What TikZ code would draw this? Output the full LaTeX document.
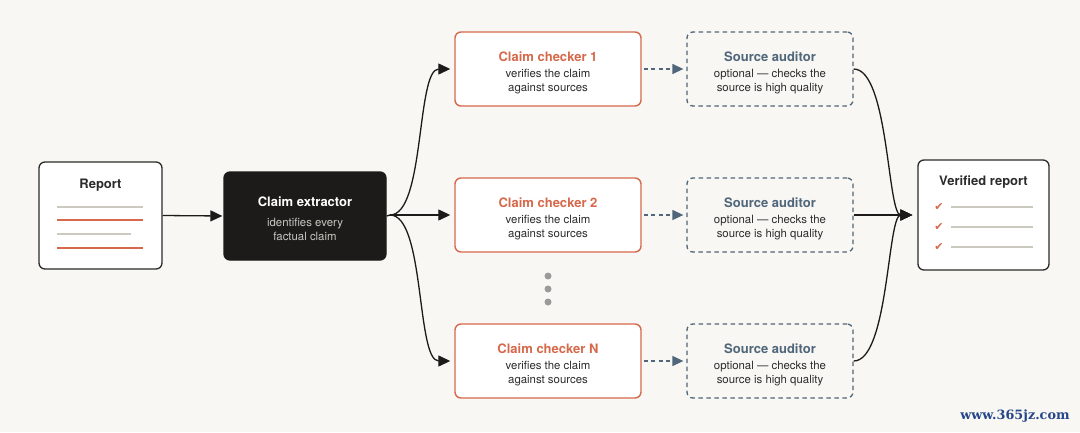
\documentclass[tikz,border=0pt]{standalone}
\usepackage{fontspec}
\setmainfont{TeX Gyre Heros}
\newfontfamily\dejavu{DejaVu Sans}
\newfontfamily\wmfont{DejaVu Serif}
\usetikzlibrary{arrows.meta}
\definecolor{bg}{HTML}{F8F7F3}
\definecolor{ink}{HTML}{1C1B19}
\definecolor{orng}{HTML}{D6694B}
\definecolor{slate}{HTML}{50667A}
\definecolor{lgray}{HTML}{CCC9C1}
\definecolor{subgray}{HTML}{C9C7C1}
\definecolor{txt}{HTML}{2B2B2B}
\definecolor{dotgray}{HTML}{9A9A98}
\definecolor{wm}{HTML}{26468A}
\begin{document}
\begin{tikzpicture}[x=1pt,y=-1pt,
  box/.style={rectangle, rounded corners=6pt, inner sep=0pt, line width=1.3pt},
  plainbox/.style={box, draw=txt, fill=white},
  darkbox/.style={box, draw=ink, fill=ink},
  chkbox/.style={box, draw=orng, fill=white, line width=1.4pt},
  audbox/.style={box, draw=slate, dash pattern=on 4.5pt off 3.5pt},
  ttl/.style={font=\bfseries\fontsize{13}{15}\selectfont, inner sep=0pt},
  sub/.style={font=\fontsize{11.4}{14}\selectfont, align=center, inner sep=0pt, text=txt},
  conn/.style={line width=1.3pt, draw=ink, -{Triangle[length=12pt,width=11pt]}},
  dconn/.style={line width=1.3pt, draw=slate, dash pattern=on 4pt off 3.5pt, -{Triangle[length=11pt,width=10pt]}},
  rline/.style={line width=2pt},
  dot/.style={circle, fill=dotgray, inner sep=0pt, minimum size=7pt}
]
\fill[bg] (0,0) rectangle (1080,432);
\useasboundingbox (0,0) rectangle (1080,432);

% Report
\node[plainbox, minimum width=123pt, minimum height=107pt] (report) at (100.5,215.5) {};
\node[ttl, text=txt] (reportT) at (100.5,185) {Report};
\coordinate (rl1a) at (57,207); \coordinate (rl1b) at (143,207);
\coordinate (rl2a) at (57,220); \coordinate (rl2b) at (143,220);
\coordinate (rl3a) at (57,234); \coordinate (rl3b) at (131,234);
\coordinate (rl4a) at (57,248); \coordinate (rl4b) at (143,248);
\draw[rline, lgray] (rl1a) -- (rl1b);
\draw[rline, orng] (rl2a) -- (rl2b);
\draw[rline, lgray] (rl3a) -- (rl3b);
\draw[rline, orng] (rl4a) -- (rl4b);

% Extractor
\node[darkbox, minimum width=162pt, minimum height=88pt] (ext) at (305,216) {};
\node[ttl, text=white] (extT) at (305,202) {Claim extractor};
\node[sub, text=subgray] (extS) at (305,229) {identifies every\\factual claim};

% Checkers
\foreach \n/\y/\lab in {c1/69/Claim checker 1, c2/215/Claim checker 2, cN/361/Claim checker N}{
  \node[chkbox, minimum width=186pt, minimum height=74pt] (\n) at (548,\y) {};
  \node[ttl, text=orng] (\n T) at (548,\y-12) {\lab};
  \node[sub] (\n S) at (548,\y+12.5) {verifies the claim\\against sources};
  \node[audbox, minimum width=166pt, minimum height=74pt] (a\n) at (770,\y) {};
  \node[ttl, text=slate] (a\n T) at (770,\y-12) {Source auditor};
  \node[sub] (a\n S) at (770,\y+12.5) {optional — checks the\\source is high quality};
}

% Dots
\node[dot] (d1) at (548,276) {};
\node[dot] (d2) at (548,289) {};
\node[dot] (d3) at (548,302) {};

% Verified report
\node[plainbox, minimum width=131pt, minimum height=110pt] (ver) at (983.5,215) {};
\node[ttl, text=txt] (verT) at (983.5,182) {Verified report};
\foreach \i/\y in {1/207,2/227,3/247}{
  \node[inner sep=0pt, text=orng, font=\dejavu\fontsize{11}{11}\selectfont] (ck\i) at (939,\y) {✔};
  \coordinate (vl\i a) at (951,\y);
  \coordinate (vl\i b) at (1033,\y);
  \draw[rline, lgray] (vl\i a) -- (vl\i b);
}

% Connectors
\coordinate (junc) at (390,215);
\draw[conn, shorten >=1pt] (report.east) -- (ext.west);
\draw[line width=1.3pt, draw=ink] (ext.east) -- (junc);
\draw[conn, shorten >=4pt] (junc) .. controls +(35,0) and +(-38,0) .. (c1.west);
\draw[conn, shorten >=4pt] (junc) -- (c2.west);
\draw[conn, shorten >=4pt] (junc) .. controls +(35,0) and +(-38,0) .. (cN.west);

\draw[dconn, shorten <=2pt, shorten >=3pt] (c1.east) -- (ac1.west);
\draw[dconn, shorten <=2pt, shorten >=3pt] (c2.east) -- (ac2.west);
\draw[dconn, shorten <=2pt, shorten >=3pt] (cN.east) -- (acN.west);

\draw[conn, shorten >=5pt] (ac1.east) .. controls +(35,0) and +(-30,0) .. (ver.west);
\draw[conn, shorten >=5pt] (ac2.east) -- (ver.west);
\draw[conn, shorten >=5pt] (acN.east) .. controls +(35,0) and +(-30,0) .. (ver.west);

% Watermark
\node[text=wm, font=\wmfont\bfseries\fontsize{12.8}{13}\selectfont, inner sep=0pt] (wmk) at (1015,416) {www.365jz.com};
\end{tikzpicture}
\end{document}
